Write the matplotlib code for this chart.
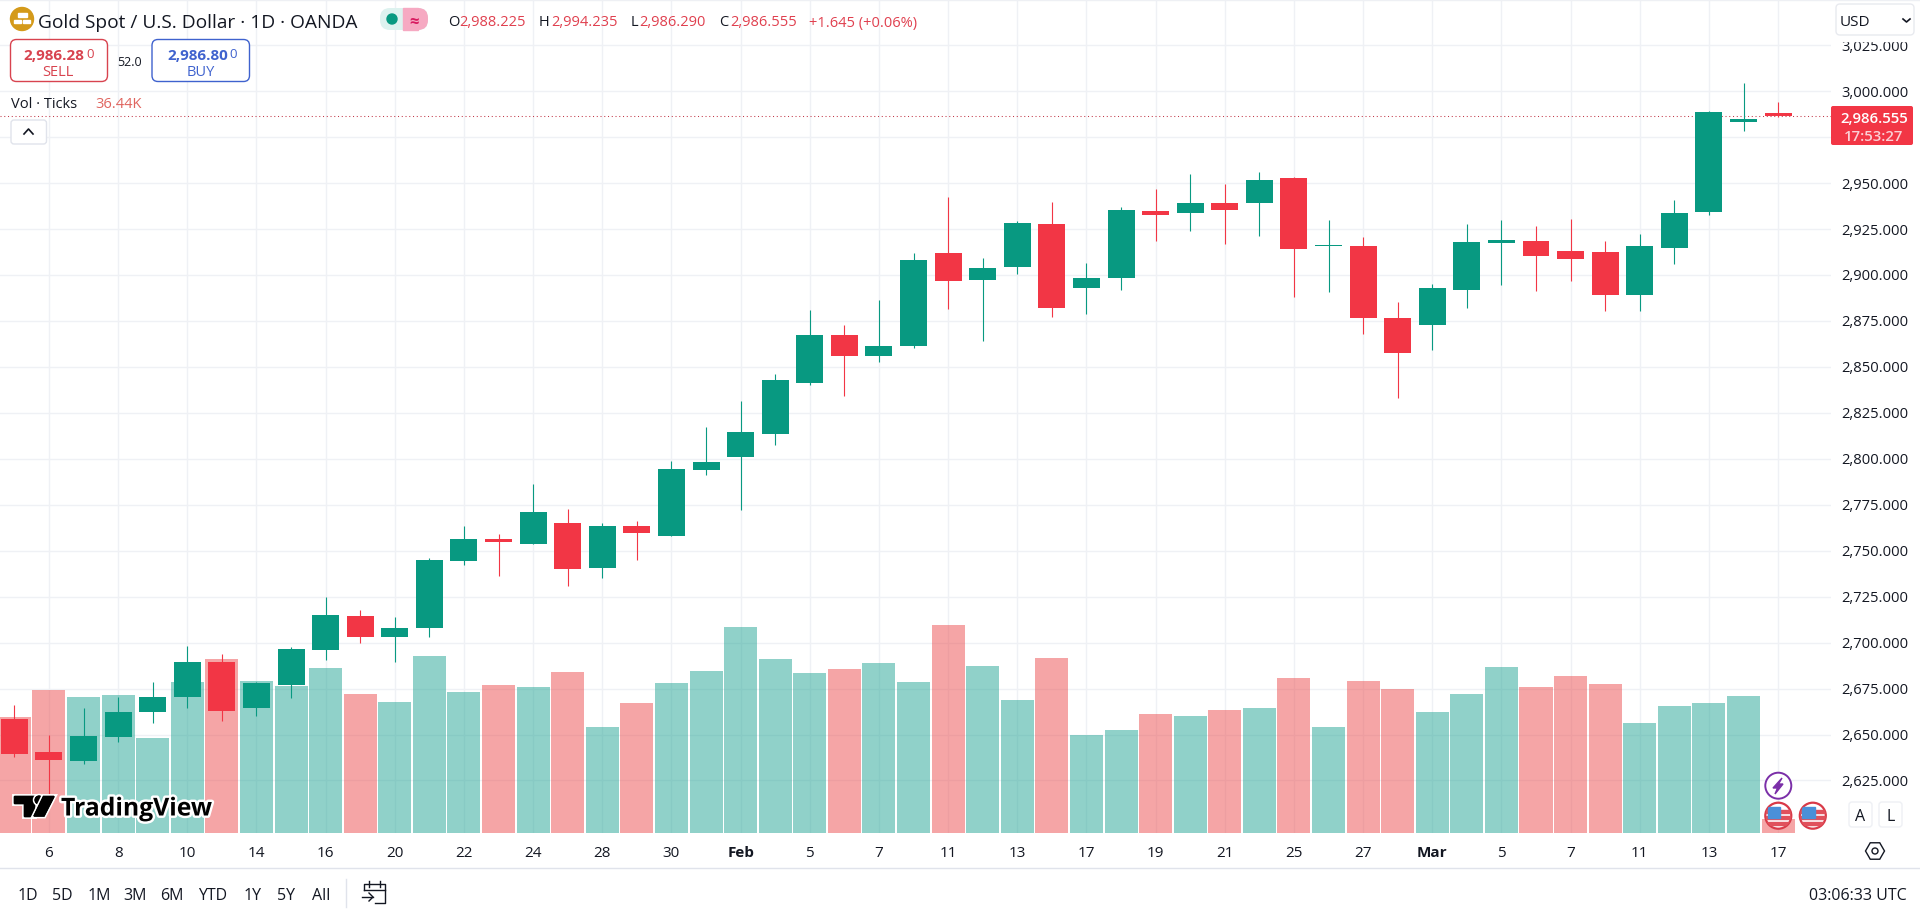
import matplotlib
matplotlib.use('Agg')
import matplotlib.pyplot as plt
import matplotlib.patheffects as pe
from matplotlib.patches import Circle, FancyBboxPatch, Polygon, Rectangle
from matplotlib.transforms import ScaledTranslation
import numpy as np

plt.rcParams['font.family'] = ['Open Sans', 'DejaVu Sans']

UP = '#089981'
DOWN = '#F23645'
VOL_UP = '#22A594'
VOL_DOWN = '#ED4D4F'
GRID = '#EFF1F5'
TEXT = '#131722'

# daily candles, Jan 3 to Mar 17, weekends skipped
opens = [2658.7, 2640.6, 2635.7, 2648.7, 2662.3, 2670.5, 2689.5, 2664.5, 2677.0, 2696.0,
         2714.5, 2703.0, 2708.0, 2744.4, 2756.2, 2753.8, 2765.3, 2740.7, 2763.6, 2758.2,
         2794.2, 2801.3, 2813.3, 2841.1, 2867.3, 2855.8, 2861.6, 2912.1, 2897.5, 2904.5,
         2927.9, 2893.1, 2898.6, 2935.0, 2933.9, 2939.3, 2939.3, 2952.9, 2916.1, 2915.9,
         2876.8, 2873.0, 2892.0, 2917.6, 2918.7, 2913.2, 2912.7, 2889.3, 2914.9, 2934.4,
         2983.3, 2988.225]
highs = [2665.8, 2649.8, 2664.5, 2670.3, 2678.6, 2698.2, 2693.8, 2678.6, 2697.6, 2724.8,
         2717.8, 2713.9, 2746.0, 2763.4, 2759.3, 2786.5, 2772.9, 2765.3, 2766.4, 2799.1,
         2817.6, 2831.3, 2846.0, 2881.3, 2873.0, 2886.7, 2912.1, 2942.6, 2909.4, 2929.5,
         2939.9, 2906.7, 2937.1, 2946.9, 2955.1, 2949.6, 2956.2, 2953.4, 2930.1, 2920.8,
         2885.5, 2895.3, 2927.9, 2930.1, 2926.8, 2930.6, 2918.7, 2922.5, 2940.9, 2989.3,
         3004.6, 2994.235]
lows = [2637.5, 2616.7, 2633.7, 2646.0, 2656.3, 2664.5, 2657.4, 2660.1, 2669.7, 2690.6,
        2699.8, 2689.5, 2703.0, 2742.2, 2736.4, 2753.5, 2730.9, 2735.3, 2745.1, 2758.0,
        2791.5, 2772.4, 2807.8, 2840.0, 2834.5, 2853.0, 2860.5, 2881.7, 2864.3, 2900.7,
        2877.4, 2879.0, 2892.0, 2918.7, 2924.1, 2917.0, 2921.4, 2888.2, 2890.9, 2868.1,
        2833.0, 2859.4, 2882.2, 2894.7, 2891.5, 2896.9, 2880.6, 2880.6, 2906.2, 2932.8,
        2978.4, 2986.29]
closes = [2639.5, 2636.2, 2649.3, 2662.3, 2670.5, 2689.5, 2662.9, 2678.1, 2696.6, 2715.0,
          2703.1, 2708.0, 2744.9, 2756.3, 2754.9, 2771.3, 2740.2, 2763.6, 2759.8, 2794.7,
          2798.5, 2814.9, 2842.7, 2867.3, 2855.8, 2861.6, 2908.3, 2896.9, 2904.0, 2928.4,
          2882.2, 2898.6, 2935.5, 2932.8, 2939.3, 2935.5, 2951.8, 2914.3, 2916.5, 2876.8,
          2857.8, 2893.1, 2918.1, 2919.2, 2910.5, 2908.9, 2889.3, 2915.9, 2933.9, 2988.8,
          2985.0, 2986.555]
# ticks, in thousands
volumes = [301.6, 371.8, 353.6, 358.8, 247.0, 392.6, 452.4, 395.2, 383.0, 429.0,
           361.4, 340.6, 460.2, 366.6, 384.8, 379.6, 418.6, 275.6, 338.0, 390.0,
           421.2, 535.6, 452.4, 416.0, 426.4, 442.0, 392.6, 540.8, 434.2, 345.8,
           455.0, 254.8, 267.8, 309.4, 304.2, 319.8, 325.0, 403.0, 275.6, 395.2,
           374.4, 314.6, 361.4, 431.6, 379.6, 408.2, 387.4, 286.0, 330.2, 338.0,
           356.2, 36.44]

date_ticks = [1, 3, 5, 7, 9, 11, 13, 15, 17, 19, 21, 23, 25, 27, 29, 31, 33, 35, 37, 39, 41, 43, 45, 47, 49, 51]
date_labels = ['6', '8', '10', '14', '16', '20', '22', '24', '28', '30', 'Feb', '5', '7', '11', '13',
               '17', '19', '21', '25', '27', 'Mar', '5', '7', '11', '13', '17']
price_ticks = list(range(2625, 3050, 25))
last_price = 2986.555

x = np.arange(len(opens))
opens = np.array(opens)
closes = np.array(closes)
rising = closes >= opens

fig = plt.figure(figsize=(19.2, 9.12), dpi=100, facecolor='white')
rect = [0, 78 / 912, 1831 / 1920, 834 / 912]
x_range = (-0.416, 52.53)
y_range = (2596.4, 3050.3)

# grid and the axis labels at the bottom
ax = fig.add_axes(rect, zorder=1)
ax.set_xlim(x_range)
ax.set_ylim(y_range)
ax.set_xticks(date_ticks)
ax.set_xticklabels(date_labels, fontsize=11, color=TEXT)
for lab in ax.get_xticklabels():
    if lab.get_text() in ('Feb', 'Mar'):
        lab.set_fontweight('bold')
ax.set_yticks(price_ticks)
# the 2,975 label is hidden by the last price badge
ax.set_yticklabels(['' if p == 2975 else '{:,.3f}'.format(p) for p in price_ticks], fontsize=10.6,
                   color=TEXT, va='center_baseline')
ax.yaxis.tick_right()
ax.tick_params(length=0)
ax.tick_params(axis='x', pad=9)
ax.tick_params(axis='y', pad=7.7)
nudge = ScaledTranslation(0, 1.2 / 100, fig.dpi_scale_trans)
for lab in ax.get_yticklabels():
    lab.set_transform(lab.get_transform() + nudge)
ax.grid(color=GRID, linewidth=1)
ax.set_axisbelow(True)
for s in ax.spines.values():
    s.set_visible(False)

# volume pane
ax_vol = fig.add_axes(rect, zorder=2)
ax_vol.patch.set_visible(False)
ax_vol.set_xlim(x_range)
ax_vol.set_ylim(0, 834 * 2.6)
ax_vol.bar(x, volumes, width=0.955, color=np.where(rising, VOL_UP, VOL_DOWN), alpha=0.5, linewidth=0)
ax_vol.axis('off')

# candles
ax_c = fig.add_axes(rect, zorder=3)
ax_c.patch.set_visible(False)
ax_c.set_xlim(x_range)
ax_c.set_ylim(y_range)
colors = np.where(rising, UP, DOWN)
ax_c.vlines(x, lows, highs, colors=colors, linewidth=0.8)
ax_c.bar(x, np.maximum(np.abs(closes - opens), 0.5), bottom=np.minimum(opens, closes),
         width=0.78, color=colors, linewidth=0)
ax_c.axhline(last_price, color='#C23A4A', linewidth=0.75, linestyle=(0, (1, 2.6)), zorder=0)
ax_c.axis('off')

# everything around the chart, in pixels
ui = fig.add_axes([0, 0, 1, 1], zorder=10)
ui.patch.set_visible(False)
ui.set_xlim(0, 1920)
ui.set_ylim(912, 0)
ui.axis('off')


def label(px, py, s, size=11.5, color=TEXT, ha='left', weight='normal', **kw):
    return ui.text(px, py, s, fontsize=size, color=color, ha=ha, va='center_baseline',
                   fontweight=weight, **kw)


def box(x0, y0, x1, y1, edge, face='white', lw=1.0, r=4):
    p = FancyBboxPatch((x0, y0), x1 - x0, y1 - y0, boxstyle='round,pad=0,rounding_size=%d' % r,
                       facecolor=face, edgecolor=edge, linewidth=lw)
    ui.add_patch(p)
    return p


# frame lines
ui.plot([0, 1920], [869, 869], color='#E0E3EB', linewidth=1)
ui.plot([0, 1920], [1, 1], color='#EEF0F4', linewidth=1)

# title row
ui.add_patch(Circle((22, 20), 11.5, color='#D49A1A'))
ui.add_patch(Rectangle((17.5, 14), 9, 4, color='white'))
ui.add_patch(Rectangle((14, 20.5), 7, 3.5, color='white'))
ui.add_patch(Rectangle((23, 20.5), 7, 3.5, color='white'))
label(38.5, 21, 'Gold Spot / U.S. Dollar · 1D · OANDA', size=13.8)
ui.add_patch(FancyBboxPatch((380, 9), 48, 22, boxstyle='round,pad=0,rounding_size=10',
                            facecolor='#DDF2EF', edgecolor='none'))
ui.add_patch(Rectangle((403, 9), 15, 22, color='#F6A9C2'))
ui.add_patch(FancyBboxPatch((405, 9), 23, 22, boxstyle='round,pad=0,rounding_size=10',
                            facecolor='#F6A9C2', edgecolor='none'))
ui.add_patch(Circle((392, 20), 5, color=UP))
label(414, 20, '≈', size=12, color='#D81B60', ha='center', weight='bold')

ohlc_red = '#E0404F'
label(448, 21, 'O', size=10.5)
label(459, 21, '2,988.225', size=10.5, color=ohlc_red)
label(539, 21, 'H', size=10.5)
label(551, 21, '2,994.235', size=10.5, color=ohlc_red)
label(631, 21, 'L', size=10.5)
label(639, 21, '2,986.290', size=10.5, color=ohlc_red)
label(719, 21, 'C', size=10.5)
label(730, 21, '2,986.555', size=10.5, color=ohlc_red)
label(809, 21, '+1.645 (+0.06%)', size=10.5, color=ohlc_red)

# sell / buy
sell_c = '#D8434F'
buy_c = '#3F62CE'
box(10.5, 40.5, 107.5, 82.5, sell_c, r=6)
label(23.5, 54, '2,986.28', size=11, color=sell_c, weight='bold')
label(86.5, 53, '0', size=9.5, color=sell_c)
label(58, 71, 'SELL', size=10.5, color=sell_c, ha='center')
label(130, 61, '52.0', size=9, ha='center')
box(152, 40.5, 249.5, 82.5, buy_c, r=6)
label(167, 54, '2,986.80', size=11, color=buy_c, weight='bold')
label(229.5, 53, '0', size=9.5, color=buy_c)
label(201, 71, 'BUY', size=10.5, color=buy_c, ha='center')

label(11, 103, 'Vol · Ticks', size=10.5)
label(95, 103, '36.44K', size=10.5, color='#E0655F')

box(11, 121, 46.5, 145, '#E0E3EB', r=3)
ui.plot([24, 28.5, 33], [135, 130, 135], color=TEXT, linewidth=1.2)

# currency drop-down sits over the top price label
ui.add_patch(Rectangle((1832, 0), 88, 42, color='white'))
box(1836, 5, 1914, 36, '#E8EAEF', r=4)
label(1840, 21, 'USD', size=11)
ui.plot([1903, 1906.5, 1910], [20, 23, 20], color=TEXT, linewidth=1.2)

# last price badge
box(1831, 107, 1913, 146, DOWN, face=DOWN, r=2, lw=0)
label(1874, 117.5, '2,986.555', size=10.8, color='white', ha='center', weight='semibold')
label(1874, 135.5, '17:53:27', size=10.8, color='#FBD0D5', ha='center', weight='semibold')

# A / L buttons and the settings icon
box(1849, 803, 1872, 828, '#EEF0F4', r=3)
label(1860.5, 815, 'A', size=11.5, ha='center')
box(1879, 803, 1902, 828, '#EEF0F4', r=3)
label(1890.5, 815, 'L', size=11.5, ha='center')
hex_t = np.deg2rad(np.arange(0, 360, 60))
ui.add_patch(Polygon(np.c_[1875 + 9.5 * np.cos(hex_t), 852 + 9.5 * np.sin(hex_t)], closed=True,
                     fill=False, edgecolor=TEXT, linewidth=1))
ui.add_patch(Circle((1875, 852), 3, fill=False, edgecolor=TEXT, linewidth=1))

# event markers
ui.add_patch(Circle((1778.3, 786.7), 13, facecolor='white', edgecolor='#7B2FA8', linewidth=1.4))
ui.add_patch(Polygon([[1782, 779], [1773, 789], [1777.5, 789], [1775, 795], [1783, 785], [1778.5, 785]],
                     color='#7B2FA8'))
for cx in (1778.3, 1812.8):
    disc = Circle((cx, 816.7), 13, facecolor='white', edgecolor='#D93A48', linewidth=1.6)
    ui.add_patch(disc)
    for sy in (811.5, 817.5, 823.5):
        stripe = Rectangle((cx - 12.5, sy), 25, 3, color='#E0515C')
        ui.add_patch(stripe)
        stripe.set_clip_path(disc)
    canton = Rectangle((cx - 10.5, 808.5), 12.5, 11, color='#4A90D9')
    ui.add_patch(canton)
    canton.set_clip_path(disc)

# watermark
halo = [pe.withStroke(linewidth=3.5, foreground='white')]
logo = [Polygon([[13.5, 797.5], [34, 797.5], [34, 817], [24, 817], [24, 804.5], [13.5, 804.5]], color='black'),
        Circle((39, 801), 3.8, color='black'),
        Polygon([[43.5, 797.5], [54, 797.5], [44, 817], [34, 817]], color='black')]
for part in logo:
    part.set_path_effects(halo + [pe.Normal()])
    ui.add_patch(part)
label(61, 807, 'TradingView', size=17.8, color='black', weight='bold', path_effects=halo)

# range row
for cx, s in zip([28, 62.5, 99, 135, 171.5, 212.5, 252.5, 286.5, 321.5],
                 ['1D', '5D', '1M', '3M', '6M', 'YTD', '1Y', '5Y', 'All']):
    label(cx, 894, s, size=11.5, ha='center')
ui.plot([345.5, 345.5], [880, 908], color='#E0E3EB', linewidth=1)
ui.plot([364, 364, 385, 385, 375], [891, 885, 885, 904, 904], color=TEXT, linewidth=1)
ui.plot([364, 385], [891, 891], color=TEXT, linewidth=1)
ui.plot([369, 369], [882, 888], color=TEXT, linewidth=1)
ui.plot([380, 380], [882, 888], color=TEXT, linewidth=1)
ui.plot([362, 373], [898, 898], color=TEXT, linewidth=1)
ui.plot([369, 373, 369], [894, 898, 902], color=TEXT, linewidth=1)
label(1906.5, 894, '03:06:33 UTC', size=11.5, ha='right')

fig.savefig('out.png', dpi=100)
